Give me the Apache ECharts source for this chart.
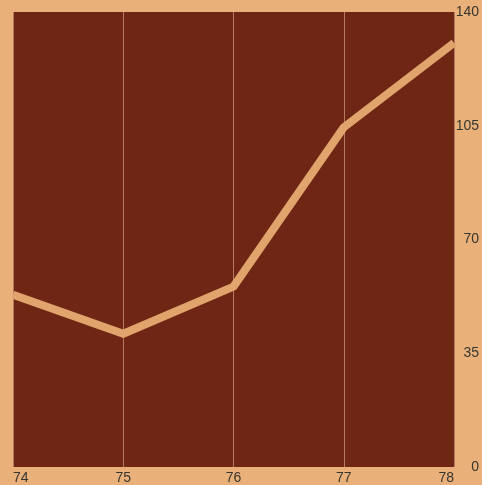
<!DOCTYPE html>
<html>
<head>
<meta charset="utf-8">
<script src="https://cdn.jsdelivr.net/npm/echarts@6/dist/echarts.min.js"></script>
<style>
html,body{margin:0;padding:0;background:#eab07a;}
#c{width:482px;height:485px;}
</style>
</head>
<body>
<div id="c"></div>
<script>
const years = ['74', '75', '76', '77', '78'];
const values = [53, 41, 55.5, 104.5, 130.5];
const yTicks = [0, 35, 70, 105, 140];

const chart = echarts.init(document.getElementById('c'), null, {renderer: 'canvas'});
chart.setOption({
  backgroundColor: '#eab07a',
  animation: false,
  grid: {
    left: 13, right: 25, top: 12, bottom: 16,
    show: true, backgroundColor: '#6f2614', borderWidth: 0
  },
  xAxis: {
    type: 'category',
    data: years,
    boundaryGap: false,
    axisLine: {show: false},
    axisTick: {show: false},
    axisLabel: {
      color: '#36362e', fontSize: 14, fontFamily: 'Liberation Sans, Arial, sans-serif',
      margin: 4, alignMinLabel: 'left', alignMaxLabel: 'right'
    },
    splitLine: {show: true, lineStyle: {color: '#b67a62', width: 1}}
  },
  yAxis: {
    type: 'value',
    position: 'right',
    min: 0, max: 140, interval: 35,
    axisLine: {show: false},
    axisTick: {show: false},
    splitLine: {show: false},
    axisLabel: {
      color: '#36362e', fontSize: 14, fontFamily: 'Liberation Sans, Arial, sans-serif',
      align: 'right', margin: 25,
      formatter: function (v) { return yTicks.indexOf(v) >= 0 ? String(v) : ''; }
    }
  },
  series: [{
    type: 'line',
    data: values,
    showSymbol: false,
    symbol: 'none',
    lineStyle: {color: '#e0a46c', width: 8, join: 'round'}
  }]
});
</script>
</body>
</html>
